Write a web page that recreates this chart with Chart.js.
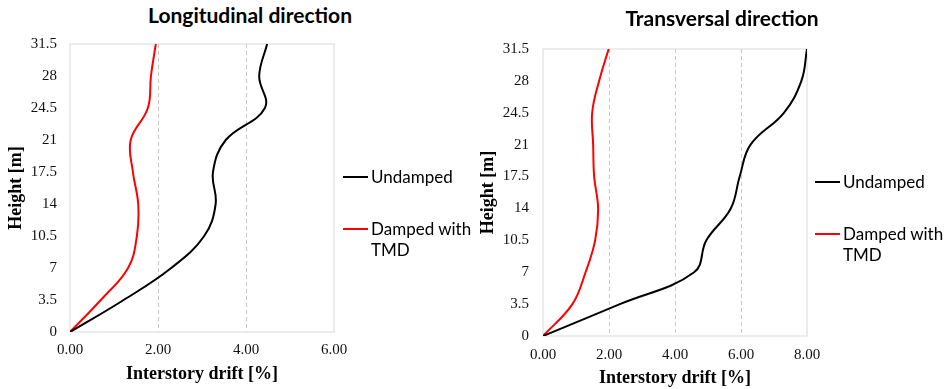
<!DOCTYPE html>
<html>
<head>
<meta charset="utf-8">
<script src="https://cdn.jsdelivr.net/npm/chart.js@4.4.1/dist/chart.umd.min.js"></script>
<style>
  html, body { margin: 0; padding: 0; background: #fff; overflow: hidden; }
  body { width: 947px; height: 389px; position: relative; }
  .panel { position: absolute; top: 0; height: 389px; }
  .chart-box { position: absolute; left: 0; top: 0; height: 389px; }
  .title { position: absolute; text-align: center; font: bold 21px Lato, sans-serif; color: #000; white-space: nowrap; }
  .legend { position: absolute; font: 17px Lato, sans-serif; color: #000; line-height: 21px; }
  .legend .item { display: flex; align-items: flex-start; margin-bottom: 31px; }
  .legend .swatch { width: 25px; height: 2px; margin-top: 10px; margin-right: 3px; flex: none; }
  .legend .text { width: 102px; }
</style>
</head>
<body>
<div class="panel" style="left:0;width:470px">
  <div class="title" style="left:0;width:500px;top:2px">Longitudinal direction</div>
  <div class="chart-box" style="width:470px"><canvas id="long-chart"></canvas></div>
  <div class="legend" id="long-legend" style="left:343px;top:166px"></div>
</div>
<div class="panel" style="left:470px;width:477px">
  <div class="title" style="left:0;width:504px;top:5px">Transversal direction</div>
  <div class="chart-box" style="width:477px"><canvas id="trans-chart"></canvas></div>
  <div class="legend" id="trans-legend" style="left:345px;top:171px"></div>
</div>
<script>
// floor heights (m) and interstory drift (%)
const heights = [0, 3.5, 7, 10.5, 14, 17.5, 21, 24.5, 28, 31.5];
const longUndamped = [0, 1.22, 2.30, 3.05, 3.31, 3.25, 3.54, 4.43, 4.30, 4.48];
const longDamped = [0, 0.70, 1.32, 1.52, 1.55, 1.43, 1.38, 1.77, 1.84, 1.95];
const transUndamped = [0, 2.33, 4.58, 4.95, 5.69, 5.96, 6.29, 7.30, 7.83, 8.00];
const transDamped = [0, 0.89, 1.29, 1.58, 1.67, 1.55, 1.52, 1.49, 1.70, 1.99];
const seriesNames = ['Undamped', 'Damped with TMD'];
const seriesColors = ['#000000', '#ff0000'];

const tickFont = { family: 'Liberation Serif', size: 15 };
const axisTitleFont = { family: 'Liberation Serif', size: 18, weight: 'bold' };

// light gray frame round the plot area
const plotFrame = {
  id: 'plotFrame',
  beforeDatasetsDraw(chart) {
    const a = chart.chartArea;
    const ctx = chart.ctx;
    ctx.save();
    ctx.strokeStyle = '#d9d9d9';
    ctx.lineWidth = 1;
    ctx.strokeRect(a.left, a.top, a.right - a.left, a.bottom - a.top);
    ctx.restore();
  }
};

function toPoints(values) {
  return values.map((v, i) => ({ x: v, y: heights[i] }));
}

function makeChart(canvasId, undamped, damped, xMax, o) {
  const ctx = document.getElementById(canvasId).getContext('2d');
  return new Chart(ctx, {
    type: 'line',
    data: {
      datasets: [undamped, damped].map((vals, i) => ({
        label: seriesNames[i],
        data: toPoints(vals),
        borderColor: seriesColors[i],
        borderWidth: 2,
        pointRadius: 0,
        tension: 0.4,
        fill: false
      }))
    },
    options: {
      responsive: true,
      maintainAspectRatio: false,
      animation: false,
      layout: { padding: { left: 0, right: o.padRight, top: o.plotTop, bottom: 0 } },
      plugins: { legend: { display: false }, tooltip: { enabled: false } },
      scales: {
        x: {
          type: 'linear',
          min: 0,
          max: xMax,
          afterFit: (s) => { s.height = o.xHeight; },
          ticks: {
            stepSize: 2,
            color: '#111',
            font: tickFont,
            padding: o.xTickPad,
            callback: (v) => v.toFixed(2)
          },
          grid: {
            drawTicks: false,
            color: (c) => (c.tick && c.tick.value > 0 && c.tick.value < xMax) ? '#c8c8c8' : 'rgba(0,0,0,0)'
          },
          border: { display: false, dash: [4, 3] },
          title: {
            display: true,
            text: 'Interstory drift [%]',
            color: '#000',
            font: axisTitleFont,
            padding: { top: 0, bottom: o.xTitlePad }
          }
        },
        y: {
          type: 'linear',
          min: 0,
          max: 31.5,
          afterFit: (s) => { s.width = o.yWidth; },
          ticks: {
            stepSize: 3.5,
            color: '#111',
            font: tickFont,
            padding: o.yTickPad,
            callback: (v) => String(v)
          },
          grid: { display: false, drawTicks: false },
          border: { display: false },
          title: {
            display: true,
            text: 'Height [m]',
            color: '#000',
            font: axisTitleFont,
            padding: { top: o.yTitlePad, bottom: 0 }
          }
        }
      }
    },
    plugins: [plotFrame]
  });
}

function buildLegend(id) {
  const el = document.getElementById(id);
  seriesNames.forEach((name, i) => {
    const item = document.createElement('div');
    item.className = 'item';
    const sw = document.createElement('span');
    sw.className = 'swatch';
    sw.style.background = seriesColors[i];
    const tx = document.createElement('span');
    tx.className = 'text';
    tx.textContent = name;
    item.appendChild(sw);
    item.appendChild(tx);
    el.appendChild(item);
  });
}

makeChart('long-chart', longUndamped, longDamped, 6, {
  padRight: 136, plotTop: 44, xHeight: 57, yWidth: 70,
  xTickPad: 9, xTitlePad: 4, yTickPad: 13, yTitlePad: 6
});
makeChart('trans-chart', transUndamped, transDamped, 8, {
  padRight: 140, plotTop: 49, xHeight: 53, yWidth: 73,
  xTickPad: 10, xTitlePad: 0, yTickPad: 14, yTitlePad: 8
});
buildLegend('long-legend');
buildLegend('trans-legend');
</script>
</body>
</html>
